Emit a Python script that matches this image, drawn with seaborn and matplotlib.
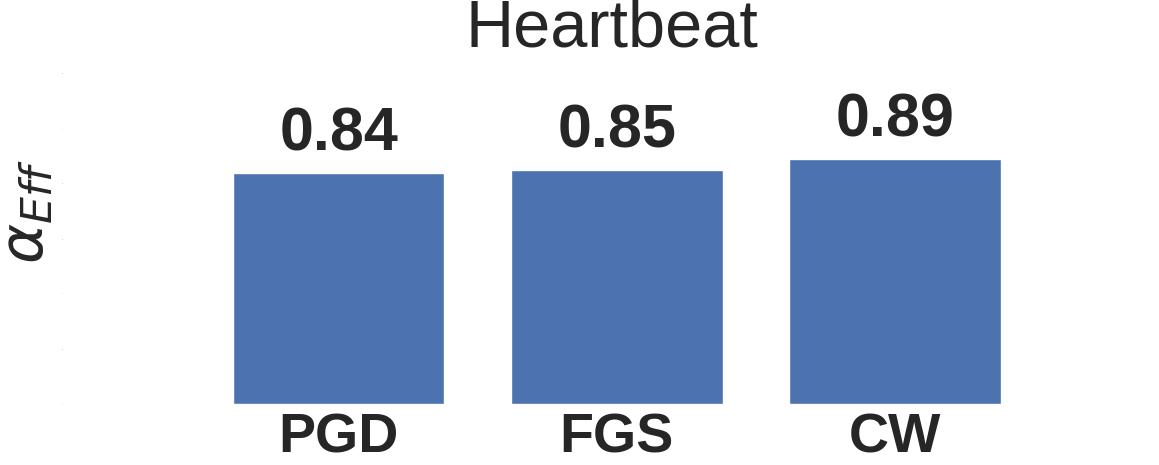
import pandas as pd
import numpy as np
import seaborn as sns
import matplotlib.pyplot as plt

# Data
methods = ["PGD", "FGS", "CW"]
alpha_eff = [0.84, 0.85, 0.89]
yticks = [0.0, 0.2, 0.4, 0.6, 0.8, 1.0, 1.2]

df = pd.DataFrame({"Method": methods, "alpha": alpha_eff})

sns.set_theme(style="white")
plt.rcParams['font.family'] = ['Arial', 'Liberation Sans', 'DejaVu Sans']

fig = plt.figure(figsize=(11.59, 4.65), dpi=100)
ax = fig.add_axes([65/1159, 61/465, 1094/1159, 330/465])

sns.barplot(data=df, x="Method", y="alpha", color="#4c72b0", width=0.76,
            saturation=1, ax=ax)

ax.set_xlim(-0.985, 2.95)
ax.set_ylim(0, 1.2)
ax.set_yticks(yticks)
ax.set_yticklabels([f"{t:.1f}" for t in yticks], fontsize=1, color="0.6")
ax.tick_params(axis="y", length=0, pad=1)
ax.tick_params(axis="x", length=0, pad=6)
for lbl in ax.get_xticklabels():
    lbl.set_fontsize(40)
    lbl.set_fontweight("bold")
    lbl.set_color("#262626")

ax.set_xlabel("")
ax.set_ylabel(r"$\alpha_{Eff}$", fontsize=44, color="#262626")
ax.yaxis.set_label_coords(-0.008, 0.582)
ax.set_title("Heartbeat", fontsize=48, color="#262626", pad=20)

for c in ax.containers:
    ax.bar_label(c, fmt="%.2f", fontsize=44, fontweight="bold",
                 color="#262626", padding=7)

sns.despine(left=True, bottom=True)
fig.savefig("out.png", dpi=100)
